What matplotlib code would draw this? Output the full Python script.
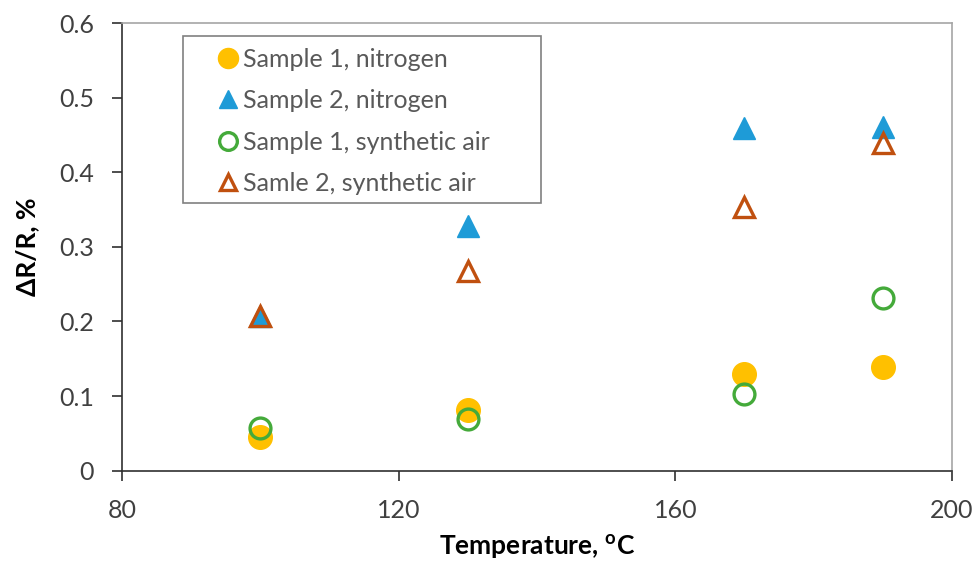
import matplotlib
matplotlib.use('Agg')
import matplotlib.pyplot as plt
from matplotlib.patches import Rectangle

plt.rcParams['font.family'] = ['Lato', 'DejaVu Sans']
plt.rcParams['mathtext.fontset'] = 'custom'
plt.rcParams['mathtext.bf'] = 'Lato:bold'
plt.rcParams['mathtext.rm'] = 'Lato'

temperature = [100, 130, 170, 190]
s1_nitrogen = [0.045, 0.081, 0.130, 0.139]
s2_nitrogen = [0.207, 0.328, 0.459, 0.461]
s1_air = [0.057, 0.069, 0.103, 0.231]
s2_air = [0.207, 0.268, 0.353, 0.439]

labels = ['Sample 1, nitrogen', 'Sample 2, nitrogen',
          'Sample 1, synthetic air', 'Samle 2, synthetic air']

fig = plt.figure(figsize=(9.79, 5.67), dpi=100)
ax = fig.add_axes([0.1246, 0.1698, 0.8478, 0.7896])

ax.plot(temperature, s1_nitrogen, 'o', ms=17, color='#FFC000', mec='#FFC000', label=labels[0])
ax.plot(temperature, s2_nitrogen, '^', ms=16, color='#1E9BD7', mec='#1E9BD7', label=labels[1])
ax.plot(temperature, s1_air, 'o', ms=15, mfc='none', mec='#44AA3A', mew=2.4, label=labels[2])
ax.plot(temperature, s2_air, '^', ms=14, mfc='none', mec='#C0500F', mew=2.4, label=labels[3])

ax.set_xlim(80, 200)
ax.set_ylim(0, 0.6)
ax.set_xticks([80, 120, 160, 200])
ax.set_yticks([0, 0.1, 0.2, 0.3, 0.4, 0.5, 0.6])
ax.set_yticklabels(['0', '0.1', '0.2', '0.3', '0.4', '0.5', '0.6'])
ax.tick_params(direction='out', length=7.2, width=1.2, labelsize=18,
               labelcolor='#404040', color='#303030', pad=13)

for side in ['top', 'right']:
    ax.spines[side].set_color('#A6A6A6')
    ax.spines[side].set_linewidth(1.2)
for side in ['left', 'bottom']:
    ax.spines[side].set_color('#303030')
    ax.spines[side].set_linewidth(1.2)

ax.set_xlabel(r'Temperature, $\mathbf{^o}$C', fontsize=19, fontweight='bold', labelpad=8)
ax.set_ylabel('ΔR/R, %', fontsize=19, fontweight='bold', labelpad=14)

# legend box drawn separately so its padding can differ from the entries
ax.add_patch(Rectangle((0.0735, 0.598), 0.4313, 0.373, transform=ax.transAxes,
                       fill=True, facecolor='white', edgecolor='#808080',
                       linewidth=1.2, zorder=4))
leg = ax.legend(loc='upper left', bbox_to_anchor=(0.110, 0.945), borderaxespad=0,
                borderpad=0, fontsize=18, frameon=False, handletextpad=0.0,
                handlelength=1.2, labelspacing=0.74, markerscale=0.85, numpoints=1)
leg.set_zorder(5)
for t in leg.get_texts():
    t.set_color('#595959')

fig.savefig('out.png', dpi=100)
